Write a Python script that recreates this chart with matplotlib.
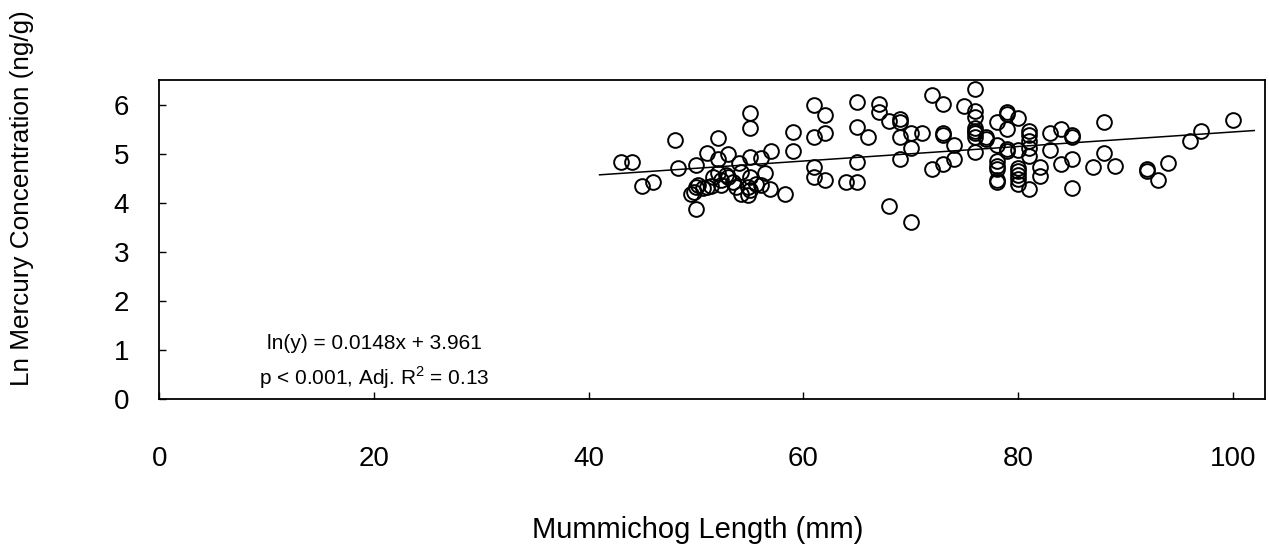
import matplotlib
matplotlib.use("Agg")
import matplotlib.pyplot as plt
import numpy as np

plt.rcParams['font.family'] = ['Liberation Sans', 'DejaVu Sans']
plt.rcParams['mathtext.fontset'] = 'custom'
plt.rcParams['mathtext.rm'] = 'Liberation Sans'

# Data (length mm, ln Hg ng/g)
length_mm = [
    43, 44, 45, 46, 48, 48.3, 50, 50, 49.5, 49.8, 50, 50.2, 50.6, 51, 51, 51.4, 51.6,
    52, 52, 52, 52.3, 52.3, 52.8, 53, 53, 53.4, 53.7, 54, 54.2, 54.2, 54.8, 54.8,
    55, 55, 55, 55, 55, 55.6, 56, 56, 56.4, 56.9, 57, 58.3, 59, 59,
    61, 61, 61, 61, 62, 62, 62, 64, 65, 65, 65, 65, 66, 67, 67, 68, 68,
    69, 69, 69, 69, 70, 70, 70, 71, 72, 72, 73, 73, 73, 73, 74, 74, 75,
    76, 76, 76, 76, 76, 76, 76, 76, 77, 77,
    78, 78, 78, 78, 78, 78, 78, 79, 79, 79, 79, 79,
    80, 80, 80, 80, 80, 80, 80, 81, 81, 81, 81, 81, 81, 82, 82, 83, 83, 84, 84,
    85, 85, 85, 85, 87, 88, 88, 89, 92, 92, 93, 94, 96, 97, 100,
]
ln_hg = [
    4.83, 4.83, 4.34, 4.42, 5.27, 4.70, 4.76, 3.88, 4.17, 4.22, 4.32, 4.36, 4.30, 5.02, 4.32, 4.35, 4.53,
    5.31, 4.90, 4.60, 4.46, 4.36, 4.56, 4.99, 4.53, 4.43, 4.32, 4.80, 4.63, 4.17, 4.32, 4.15,
    5.82, 5.53, 4.93, 4.53, 4.26, 4.39, 4.92, 4.36, 4.60, 4.27, 5.06, 4.18, 5.44, 5.06,
    5.99, 5.33, 4.72, 4.52, 5.78, 5.41, 4.46, 4.43, 6.06, 5.55, 4.83, 4.43, 5.34, 6.02, 5.85, 5.67, 3.93,
    5.70, 5.65, 5.34, 4.89, 5.42, 5.11, 3.61, 5.42, 6.19, 4.68, 6.01, 5.41, 5.38, 4.79, 5.17, 4.90, 5.97,
    6.31, 5.87, 5.74, 5.53, 5.47, 5.41, 5.33, 5.04, 5.33, 5.29,
    5.65, 5.17, 4.85, 4.75, 4.69, 4.46, 4.43, 5.85, 5.81, 5.51, 5.10, 5.06,
    5.72, 5.07, 4.70, 4.64, 4.56, 4.49, 4.39, 5.47, 5.38, 5.25, 5.12, 4.96, 4.28, 4.73, 4.55, 5.42, 5.07, 5.50, 4.79,
    5.38, 5.33, 4.90, 4.29, 4.72, 5.65, 5.01, 4.75, 4.68, 4.65, 4.46, 4.80, 5.26, 5.46, 5.68,
]

slope = 0.0148
intercept = 3.961
fit_range = [41, 102]

x_ticks = [0, 20, 40, 60, 80, 100]
y_ticks = [0, 1, 2, 3, 4, 5, 6]

fig = plt.figure(figsize=(12.69, 5.54), dpi=100)
W, H = 1269, 554
left, right, top, bottom = 159.5, 1265, 80, 399
ax = fig.add_axes([left / W, 1 - bottom / H, (right - left) / W, (bottom - top) / H])

ax.plot(length_mm, ln_hg, linestyle='none', marker='o', markersize=10.6,
        markerfacecolor='none', markeredgecolor='black', markeredgewidth=1.4)

xf = np.array(fit_range, dtype=float)
ax.plot(xf, slope * xf + intercept, color='black', linewidth=1.1)

ax.set_xlim(0, 103)
ax.set_ylim(0, 6.5)
ax.set_xticks(x_ticks)
ax.set_yticks(y_ticks)
ax.tick_params(axis='x', direction='in', length=5, width=1, pad=34, labelsize=20)
ax.tick_params(axis='y', direction='in', length=5, width=1, pad=22, labelsize=20)
for s in ax.spines.values():
    s.set_linewidth(1.3)
    s.set_color('black')

ax.text(20, 1.14, 'ln(y) = 0.0148x + 3.961', ha='center', va='center', fontsize=15)
ax.text(20, 0.43, r'p < 0.001, Adj. R$^{2}$ = 0.13', ha='center', va='center', fontsize=15)

fig.text(22 / W, 1 - 198 / H, 'Ln Mercury Concentration (ng/g)', rotation=90,
         ha='center', va='center', fontsize=18.8)
fig.text(698 / W, 1 - 530 / H, 'Mummichog Length (mm)', ha='center', va='center', fontsize=21)

fig.savefig('out.png', dpi=100)
